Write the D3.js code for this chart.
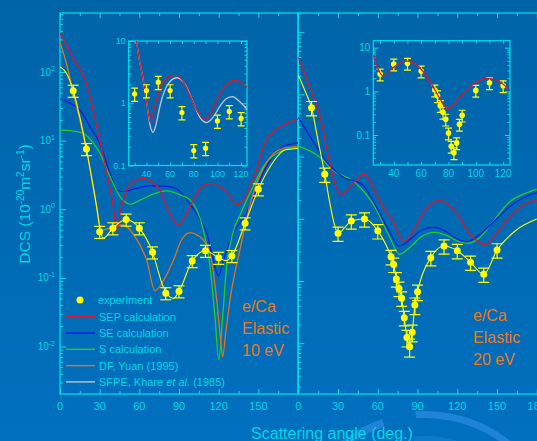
<!DOCTYPE html>
<html><head><meta charset="utf-8">
<script src="https://cdn.jsdelivr.net/npm/d3@7"></script>
<style>
html,body{margin:0;padding:0;background:#0066aa;overflow:hidden;}
svg{display:block;}
text{font-family:"Liberation Sans",Arial,Helvetica,sans-serif;}
</style></head><body>
<svg id="c" width="537" height="441"></svg>
<script>
// ---------------- DATA ----------------
// 10 eV experiment (main panel)
const angles10 = [10,20,30,40,50,60,70,80,90,100,110,120,130,140,150];
const exp10    = [53.6,7.57,0.47,0.53,0.71,0.53,0.236,0.06,0.064,0.176,0.249,0.197,0.209,0.625,1.96];
const err10    = [0.2,0.2,0.2,0.2,0.2,0.2,0.2,0.2,0.2,0.2,0.2,0.2,0.2,0.2,0.2];
// 10 eV curves [angle, DCS]
const fit10 = [[0,120],[5,95],[10,53.6],[15,22],[20,7.57],[25,2.2],[27.7,1.09],[30,0.55],[32.7,0.378],[40,0.53],[50,0.71],[60,0.53],[70,0.236],[78,0.075],[85.7,0.05],[90,0.064],[100,0.176],[110,0.249],[120,0.197],[125.9,0.178],[130,0.209],[140,0.625],[150,1.96],[160,4.5],[170,7.3],[180,7.7]];
const sep10 = [[0,368],[10,160],[20,68.7],[30,10.2],[36,3.0],[40.3,1.09],[42.9,0.47],[45.4,0.87],[50.4,1.91],[56,2.6],[63,2.83],[70,2.5],[75.6,1.91],[80.7,1.09],[85.7,0.7],[89.5,0.59],[94.5,0.78],[100.8,1.37],[107,2.1],[113.5,2.39],[120,2.2],[126,1.81],[133.8,1.16],[140,1.5],[146,2.67],[156,10.2],[169,16.9],[180,20.7]];
const se10  = [[0,40.5],[8,35],[15,28],[22,16.9],[30,9.2],[37.8,3.35],[42.9,1.91],[47.9,1.81],[55,1.95],[68,2.19],[83,2.14],[90.8,1.81],[96,1.37],[106,0.7],[111,0.447],[116,0.18],[119.8,0.107],[123.6,0.18],[131,0.45],[141,0.87],[156,4.2],[169,8.2],[180,9.3]];
const s10   = [[0,14.3],[8,14],[17.6,12.8],[25,9.3],[30.3,6.5],[37.8,3.0],[45.4,1.53],[53,1.19],[62,1.4],[70,1.65],[80.7,1.85],[90,1.65],[98.3,1.37],[108.4,0.5],[113.5,0.146],[117.2,0.027],[120.2,0.0064],[123,0.027],[126,0.146],[130,0.4],[136.7,0.87],[146,2.14],[153.8,4.2],[169,7.3],[180,8.0]];
const df10  = [[0,270],[5,130],[10,50],[15,20],[20,7.2],[25,2.2],[28,1.0],[31.5,0.5],[40,0.55],[47.9,0.59],[56,0.42],[65.6,0.18],[71.9,0.065],[78,0.09],[85.7,0.18],[92,0.36],[98.5,0.457],[104,0.42],[108.4,0.357],[113.5,0.23],[118.5,0.048],[121.5,0.0124],[123,0.0071],[125.3,0.0156],[128.6,0.048],[136,0.255],[146.2,1.71],[156,4.7],[169,7.8],[180,8.2]];

// 20 eV experiment (main panel)
const angles20 = [10,20,30,40,50,60,70,72,74,76,78,80,82,84,86,88,90,100,110,120,130,140,150];
const exp20    = [611,51.9,5.85,9.2,9.9,6.4,2.46,1.85,1.08,0.76,0.53,0.257,0.124,0.088,0.15,0.41,0.67,2.37,3.65,3.07,2.0,1.28,3.15];
const err20    = [0.26,0.26,0.26,0.26,0.26,0.26,0.26,0.26,0.26,0.26,0.26,0.26,0.3,0.32,0.3,0.3,0.28,0.26,0.26,0.26,0.26,0.26,0.26];
const fit20 = [[0,2050],[5,1150],[10,611],[15,178],[20,51.9],[23.4,20],[27,8.5],[30,5.85],[35,7.2],[40,9.2],[50,9.9],[60,6.4],[70,2.46],[72,1.85],[74,1.08],[76,0.76],[78,0.53],[80,0.257],[82,0.124],[84,0.088],[86,0.15],[88,0.41],[90,0.67],[100,2.37],[110,3.65],[120,3.07],[130,2.0],[140,1.28],[150,3.15],[164.6,6.6],[180,9.9]];
const sep20 = [[0,3970],[8,1400],[15.9,497],[23.4,88],[28.5,32.8],[31.8,24.1],[40,35],[49.9,52.5],[58.8,25],[66.3,13],[71,9.6],[79.6,4.29],[86,6],[94,12.3],[100,17],[106.6,20],[113,17],[119.2,12.3],[129.3,5.85],[141.4,3.79],[149.5,5.85],[159.6,10.8],[169.7,16.7],[180,20]];
const se20  = [[0,428],[12.1,164],[23.4,73],[33.5,47.5],[48.6,35],[58.8,15.7],[68.8,6.2],[75.9,3.65],[85,4.8],[93,6.6],[101.6,7.3],[110,6.5],[118,5.0],[126.8,4.29],[135,5.2],[145,8.0],[159.6,15.7],[170,22],[180,26.7]];
const s20   = [[0,148],[15.9,99.6],[25.9,61],[43.6,37],[56.2,17.7],[68.8,5.2],[76.4,2.69],[85,3.6],[93,5.2],[102.9,6.07],[112,5.4],[120,4.4],[128,4.04],[136,4.8],[146,8.5],[159.6,18.8],[170,25],[180,29.8]];

// Insets
const anglesI10 = [30,40,50,60,70,80,90,100,110,120];
const expI10    = [1.41,1.6,2.18,1.6,0.71,0.174,0.19,0.52,0.74,0.57];
const errI10    = [0.24,0.24,0.24,0.24,0.24,0.24,0.24,0.24,0.24,0.24];
const sepI10  = [[27,40],[31.6,10],[34,5],[36.3,3.0],[40,1.1],[43.3,0.49],[47,0.9],[52,1.8],[58,2.6],[64.3,2.8],[70,2.4],[77,1.3],[84,0.7],[89.5,0.55],[95,0.75],[102,1.4],[108,2.0],[114.7,2.32],[120,2.15],[125,1.8]];
const sfpeI10 = [[27,40],[31.6,10],[34,5],[36.3,3.0],[40,1.1],[43,0.45],[45.6,0.34],[48,0.45],[52,1.0],[58,2.0],[65.7,2.57],[72,2.1],[79,1.1],[85,0.6],[91,0.49],[97,0.62],[103,0.95],[108,1.2],[112.8,1.28],[118,1.1],[125,0.8]];
const anglesI20 = [30,40,50,60,70,72,74,76,78,80,82,84,86,88,90,100,110,120];
const expI20    = [2.48,4.2,4.38,2.91,1.07,0.79,0.47,0.33,0.23,0.111,0.055,0.039,0.066,0.176,0.284,1.05,1.57,1.34];
const errI20    = [0.3,0.3,0.3,0.3,0.3,0.3,0.3,0.3,0.3,0.3,0.3,0.3,0.3,0.3,0.3,0.3,0.3,0.3];
const sepI20  = [[25,6.8],[28,3.5],[32.3,2.24],[38,3.2],[44,4.4],[50,4.94],[56,4.2],[62,2.7],[68.9,1.27],[74,0.65],[79.4,0.4],[85,0.55],[92,1.0],[100,1.6],[108,1.98],[115,1.8],[120,1.45],[125,1.03]];

// axis tick labels
const xTickLabelsL = [0,30,60,90,120,150];
const xTickLabelsR = [0,30,60,90,120,150,180];
const yTickExpL = [2,1,0,-1,-2];
const insetXLabels = [40,60,80,100,120];
const insetYLabels = ["0.1","1","10"];

// legend
const legendNames = ["SEP calculation","SE calculation","S calculation","DF, Yuan (1995)","SFPE, Khare et al. (1985)"];

// ---------------- DRAW ----------------
const C = {axis:"#00e2ec", text:"#00d6e6", red:"#e0142c", blue:"#0a1ee6", green:"#1ed21e", orange:"#e37318", yellow:"#ffff00", gray:"#c9c3d3", label:"#e87a1c"};
const svg = d3.select("#c");
const defs = svg.append("defs");
const g0 = defs.append("linearGradient").attr("id","bg").attr("x1",0).attr("y1",0).attr("x2",0).attr("y2",1);
g0.append("stop").attr("offset","0%").attr("stop-color","#0064a8");
g0.append("stop").attr("offset","100%").attr("stop-color","#0070bf");
svg.append("rect").attr("width",537).attr("height",441).attr("fill","url(#bg)");

// decorative watermark arcs
const wm = svg.append("g").attr("transform","translate(425,548)");
wm.append("path").attr("d", d3.arc().innerRadius(128).outerRadius(136).startAngle(-0.72).endAngle(-0.32)()).attr("fill","#2a8ae0").attr("opacity",0.75);
wm.append("path").attr("d", d3.arc().innerRadius(130).outerRadius(137).startAngle(-0.07).endAngle(1.0)()).attr("fill","#2a8ae0").attr("opacity",0.75);
wm.append("path").attr("d", d3.arc().innerRadius(104).outerRadius(112).startAngle(-0.1).endAngle(0.9)()).attr("fill","#2a8ae0").attr("opacity",0.35);

// scales
const xL = d3.scaleLinear().domain([0,180]).range([60,298]);
const yL = d3.scaleLog().domain([Math.pow(10,-2.692),Math.pow(10,2.861)]).range([394,13]);
const xR = d3.scaleLinear().domain([0,180]).range([298.3,536.8]);
const yR = d3.scaleLog().domain([Math.pow(10,-1.817),Math.pow(10,4.309)]).range([394,13]);
const xI1 = d3.scaleLinear().domain([25,125]).range([128.7,247]);
const yI1 = d3.scaleLog().domain([0.1,10]).range([165.5,41]);
const xI2 = d3.scaleLinear().domain([25,125]).range([373.3,510]);
const yI2 = d3.scaleLog().domain([Math.pow(10,-1.687),Math.pow(10,1.16)]).range([165,40.7]);

function logTicks(scale){
  const [a,b] = scale.domain();
  const maj=[],min=[];
  for(let e=Math.floor(Math.log10(a)); e<=Math.ceil(Math.log10(b)); e++){
    for(let k=1;k<10;k++){
      const v=k*Math.pow(10,e);
      if(v>=a*0.999 && v<=b*1.001){ (k===1?maj:min).push(v); }
    }
  }
  return {maj,min};
}
function styleAxis(sel){
  sel.select(".domain").remove();
  sel.selectAll("line").attr("stroke",C.axis).attr("stroke-width",1);
  sel.selectAll("text").remove();
}
function frame(x0,y0,x1,y1){
  svg.append("rect").attr("x",x0).attr("y",y0).attr("width",x1-x0).attr("height",y1-y0)
    .attr("fill","none").attr("stroke",C.axis).attr("stroke-width",1.2);
}
function clip(id,x0,y0,x1,y1){
  defs.append("clipPath").attr("id",id).append("rect").attr("x",x0).attr("y",y0).attr("width",x1-x0).attr("height",y1-y0);
}

// --- Main panel axes ---
function mainAxes(x,y,x0,x1,leftTicks,labels){
  const lt = logTicks(y);
  const top = 13, bot = 394;
  // x ticks
  const maj = d3.range(0,181,30), mn = d3.range(15,181,30);
  svg.append("g").attr("transform",`translate(0,${bot})`).call(d3.axisBottom(x).tickValues(maj).tickSize(-5).tickSizeOuter(0)).call(styleAxis);
  svg.append("g").attr("transform",`translate(0,${bot})`).call(d3.axisBottom(x).tickValues(mn).tickSize(-3).tickSizeOuter(0)).call(styleAxis);
  svg.append("g").attr("transform",`translate(0,${top})`).call(d3.axisTop(x).tickValues(maj).tickSize(-5).tickSizeOuter(0)).call(styleAxis);
  svg.append("g").attr("transform",`translate(0,${top})`).call(d3.axisTop(x).tickValues(mn).tickSize(-3).tickSizeOuter(0)).call(styleAxis);
  // y ticks
  svg.append("g").attr("transform",`translate(${x0},0)`).call(d3.axisLeft(y).tickValues(lt.maj).tickSize(-6).tickSizeOuter(0)).call(styleAxis);
  svg.append("g").attr("transform",`translate(${x0},0)`).call(d3.axisLeft(y).tickValues(lt.min).tickSize(-3).tickSizeOuter(0)).call(styleAxis);
  // x labels
  svg.append("g").selectAll("text").data(labels).join("text")
    .attr("x",d=>x(d)).attr("y",410).attr("text-anchor","middle")
    .attr("font-size",11).attr("fill",C.text).text(d=>d);
}
mainAxes(xL,yL,60,298,true,xTickLabelsL);
mainAxes(xR,yR,298.3,537,false,xTickLabelsR);

// y labels left
const yl = svg.append("g").selectAll("text").data(yTickExpL).join("text")
  .attr("x",55).attr("y",d=>yL(Math.pow(10,d))+3.5).attr("text-anchor","end")
  .attr("font-size",10).attr("fill",C.text);
yl.append("tspan").text("10");
yl.append("tspan").attr("font-size",7).attr("dy",-4.5).text(d=>d);

// frames
frame(60,13,298,394);
frame(298.3,13,540,394);

// axis titles
const yt = svg.append("text").attr("transform","translate(30,204) rotate(-90)").attr("text-anchor","middle")
  .attr("font-size",15.5).attr("fill",C.text);
yt.append("tspan").text("DCS (10");
yt.append("tspan").attr("font-size",10).attr("dy",-6).text("-20");
yt.append("tspan").attr("dy",6).text("m");
yt.append("tspan").attr("font-size",10).attr("dy",-6).text("2");
yt.append("tspan").attr("dy",6).text("sr");
yt.append("tspan").attr("font-size",10).attr("dy",-6).text("-1");
yt.append("tspan").attr("dy",6).text(")");
svg.append("text").attr("x",332).attr("y",439).attr("text-anchor","middle").attr("font-size",16).attr("fill",C.text).text("Scattering angle (deg.)");

// curves
clip("cL",60,13,298,394); clip("cR",298.3,13,537,394);
function curve(gp,data,x,y,color,w){
  gp.append("path").datum(data).attr("fill","none").attr("stroke",color).attr("stroke-width",w||1.3)
    .attr("d",d3.line().x(d=>x(d[0])).y(d=>y(d[1])).curve(d3.curveMonotoneX));
}
function points(gp,angles,vals,errs,x,y,r,cap){
  const g = gp.append("g");
  angles.forEach((a,i)=>{
    const v=vals[i], e=errs[i];
    const cx=x(a), y1=y(v*(1+e)), y2=y(v*(1-e));
    g.append("line").attr("x1",cx).attr("x2",cx).attr("y1",y1).attr("y2",y2).attr("stroke",C.yellow).attr("stroke-width",1.2);
    g.append("line").attr("x1",cx-cap).attr("x2",cx+cap).attr("y1",y1).attr("y2",y1).attr("stroke",C.yellow).attr("stroke-width",1.2);
    g.append("line").attr("x1",cx-cap).attr("x2",cx+cap).attr("y1",y2).attr("y2",y2).attr("stroke",C.yellow).attr("stroke-width",1.2);
    g.append("circle").attr("cx",cx).attr("cy",y(v)).attr("r",r).attr("fill",C.yellow);
  });
}
const gL = svg.append("g").attr("clip-path","url(#cL)");
curve(gL,se10,xL,yL,C.blue);
curve(gL,s10,xL,yL,C.green);
curve(gL,df10,xL,yL,C.orange);
curve(gL,sep10,xL,yL,C.red);
curve(gL,fit10,xL,yL,C.yellow,1.1);
points(gL,angles10,exp10,err10,xL,yL,3.5,5.5);

const gR = svg.append("g").attr("clip-path","url(#cR)");
curve(gR,s20,xR,yR,C.green);
curve(gR,se20,xR,yR,C.blue);
curve(gR,sep20,xR,yR,C.red);
curve(gR,fit20,xR,yR,C.yellow,1.1);
points(gR,angles20,exp20,err20,xR,yR,3.5,5.5);

// --- Insets ---
function inset(x,y,id,fs,lblX){
  const [x0,x1]=x.range(), [y1,y0]=y.range();
  clip(id,x0,y0,x1,y1);
  const lt = logTicks(y);
  const xt = d3.range(30,125,10);
  svg.append("g").attr("transform",`translate(0,${y1})`).call(d3.axisBottom(x).tickValues(xt).tickSize(-3).tickSizeOuter(0)).call(styleAxis);
  svg.append("g").attr("transform",`translate(0,${y0})`).call(d3.axisTop(x).tickValues(xt).tickSize(-3).tickSizeOuter(0)).call(styleAxis);
  svg.append("g").attr("transform",`translate(${x0},0)`).call(d3.axisLeft(y).tickValues(lt.maj).tickSize(-5).tickSizeOuter(0)).call(styleAxis);
  svg.append("g").attr("transform",`translate(${x0},0)`).call(d3.axisLeft(y).tickValues(lt.min).tickSize(-2.5).tickSizeOuter(0)).call(styleAxis);
  svg.append("g").attr("transform",`translate(${x1},0)`).call(d3.axisRight(y).tickValues(lt.maj).tickSize(-5).tickSizeOuter(0)).call(styleAxis);
  svg.append("g").attr("transform",`translate(${x1},0)`).call(d3.axisRight(y).tickValues(lt.min).tickSize(-2.5).tickSizeOuter(0)).call(styleAxis);
  frame(x0,y0,x1,y1);
  svg.append("g").selectAll("text").data(insetXLabels).join("text")
    .attr("x",d=>x(d)).attr("y",y1+lblX).attr("text-anchor","middle").attr("font-size",fs).attr("fill",C.text).text(d=>d);
  svg.append("g").selectAll("text").data(insetYLabels).join("text")
    .attr("x",x0-3).attr("y",d=>y(+d)+fs*0.36).attr("text-anchor","end").attr("font-size",fs).attr("fill",C.text).text(d=>d);
  return svg.append("g").attr("clip-path",`url(#${id})`);
}
const gI1 = inset(xI1,yI1,"cI1",9,11);
curve(gI1,sfpeI10,xI1,yI1,C.gray,1.3);
curve(gI1,sepI10,xI1,yI1,C.red,1.3);
points(gI1,anglesI10,expI10,errI10,xI1,yI1,2.6,3.5);
const gI2 = inset(xI2,yI2,"cI2",10,12);
points(gI2,anglesI20,expI20,errI20,xI2,yI2,2.8,3.5);
curve(gI2,sepI20,xI2,yI2,C.red,1.3);

// --- Legend ---
const lg = svg.append("g");
const legendColors = [C.red,C.blue,C.green,C.orange,C.gray];
lg.append("circle").attr("cx",80).attr("cy",300).attr("r",3.5).attr("fill",C.yellow);
lg.append("text").attr("x",98).attr("y",304).attr("font-size",11).attr("fill",C.text).text("experiment");
legendNames.forEach((n,i)=>{
  const yy = 316.7 + i*16.3;
  lg.append("line").attr("x1",66).attr("x2",95).attr("y1",yy).attr("y2",yy).attr("stroke",legendColors[i]).attr("stroke-width",1.4);
  const t = lg.append("text").attr("x",99).attr("y",yy+4).attr("font-size",11).attr("fill",C.text);
  if(n.indexOf("et al.")>=0){
    t.append("tspan").text("SFPE, Khare ");
    t.append("tspan").attr("font-style","italic").text("et al.");
    t.append("tspan").text(" (1985)");
  } else t.text(n);
});

// --- Panel labels ---
function plabel(x,y,lines){
  svg.append("g").selectAll("text").data(lines).join("text")
    .attr("x",x).attr("y",(d,i)=>y+i*22).attr("font-size",16).attr("fill",C.label).text(d=>d);
}
plabel(242,312,["e/Ca","Elastic","10 eV"]);
plabel(473,321,["e/Ca","Elastic","20 eV"]);
</script>
</body></html>
